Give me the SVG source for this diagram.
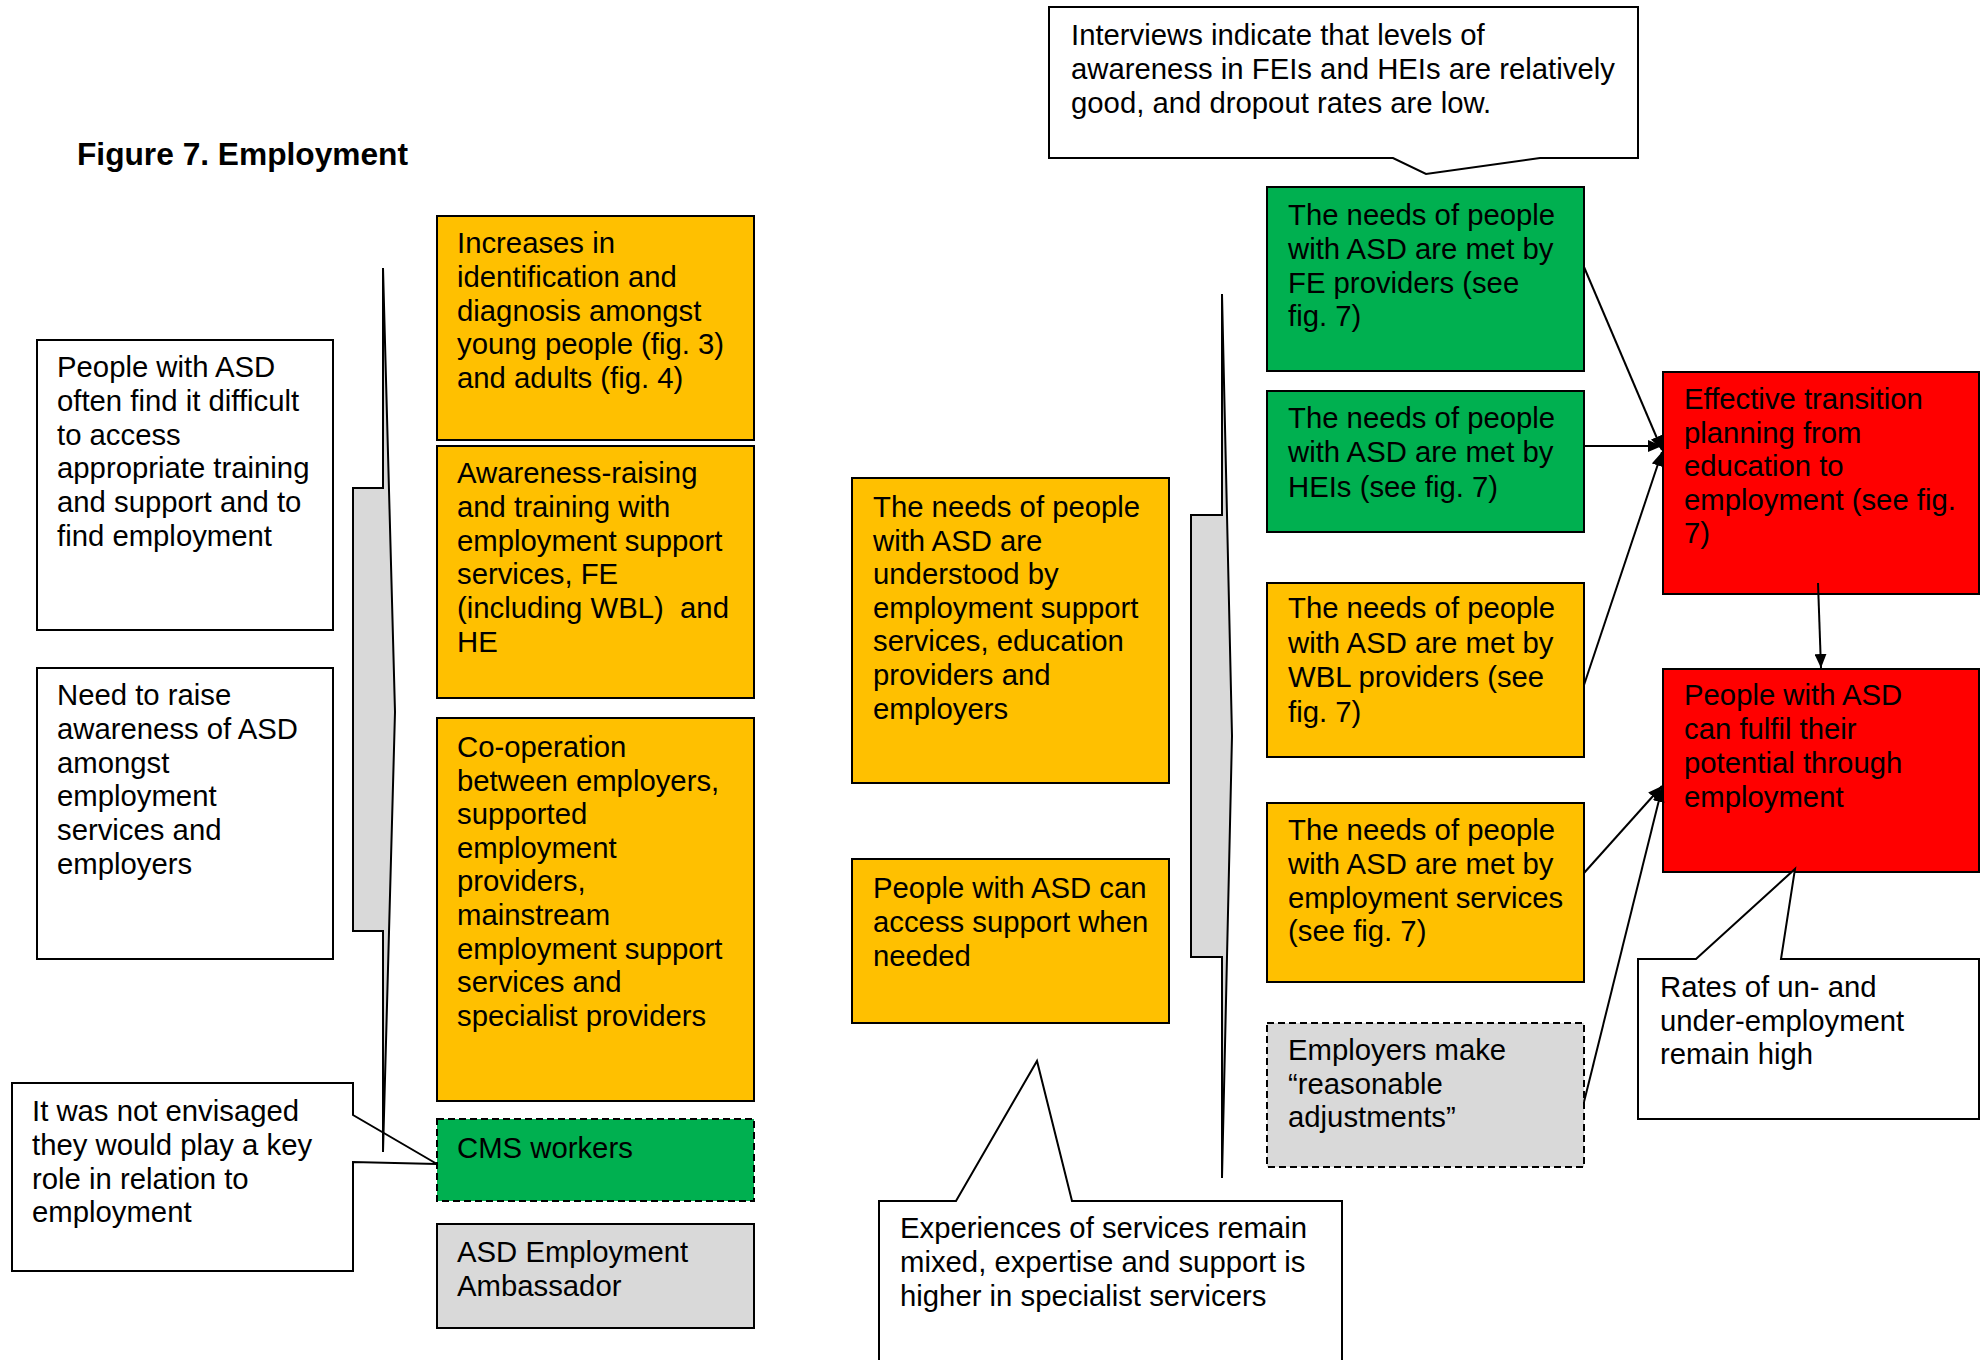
<svg xmlns="http://www.w3.org/2000/svg" width="1988" height="1360" viewBox="0 0 1988 1360">
  <style>
    text { font-family: "Liberation Sans", Arial, sans-serif; font-size: 29.3px; fill: #000; }
    .title { font-weight: bold; font-size: 31.7px; }
    .box { stroke: #000; stroke-width: 2; }
    .white { fill: #fff; }
    .amber { fill: #FFC000; }
    .green { fill: #00B050; }
    .red { fill: #FF0000; }
    .grey { fill: #D9D9D9; }
    .dashed { stroke-dasharray: 7 4; }
    .brace { fill: #D9D9D9; stroke: #000; stroke-width: 2; stroke-linejoin: miter; }
    .callout { fill: #fff; stroke: #000; stroke-width: 2; }
    .link { stroke: #000; stroke-width: 2; fill: none; marker-end: url(#arrow); }
  </style>
  <defs>
    <marker id="arrow" viewBox="0 0 14 12" markerWidth="14" markerHeight="12" refX="14" refY="6" orient="auto" markerUnits="userSpaceOnUse">
      <path d="M0,0 L14,6 L0,12 z" fill="#000"/>
    </marker>
  </defs>

  <rect width="1988" height="1360" fill="#fff"/>

  <text class="title" x="77" y="165">Figure 7. Employment</text>

  <!-- left-hand issue boxes -->
  <g id="issue-access">
    <rect class="box white" x="37" y="340" width="296" height="290"/>
    <text x="57" y="377">People with ASD<tspan x="57" dy="33.8">often find it difficult</tspan><tspan x="57" dy="33.8">to access</tspan><tspan x="57" dy="33.8">appropriate training</tspan><tspan x="57" dy="33.8">and support and to</tspan><tspan x="57" dy="33.8">find employment</tspan></text>
  </g>
  <g id="issue-awareness">
    <rect class="box white" x="37" y="668" width="296" height="291"/>
    <text x="57" y="705">Need to raise<tspan x="57" dy="33.8">awareness of ASD</tspan><tspan x="57" dy="33.8">amongst</tspan><tspan x="57" dy="33.8">employment</tspan><tspan x="57" dy="33.8">services and</tspan><tspan x="57" dy="33.8">employers</tspan></text>
  </g>
  <g id="note-cms">
    <polygon class="callout" points="12,1083 353,1083 353,1115 437,1164 353,1162 353,1271 12,1271"/>
    <text x="32" y="1121">It was not envisaged<tspan x="32" dy="33.8">they would play a key</tspan><tspan x="32" dy="33.8">role in relation to</tspan><tspan x="32" dy="33.8">employment</tspan></text>
  </g>

  <!-- left brace -->
  <g id="brace-left">
    <polygon class="brace" points="383,268 395,712 383,1152 383,931 353,931 353,488 383,488"/>
  </g>

  <!-- activities column -->
  <g id="act-identification">
    <rect class="box amber" x="437" y="216" width="317" height="224"/>
    <text x="457" y="253">Increases in<tspan x="457" dy="33.8">identification and</tspan><tspan x="457" dy="33.8">diagnosis amongst</tspan><tspan x="457" dy="33.8">young people (fig. 3)</tspan><tspan x="457" dy="33.8">and adults (fig. 4)</tspan></text>
  </g>
  <g id="act-awareness">
    <rect class="box amber" x="437" y="446" width="317" height="252"/>
    <text x="457" y="483">Awareness-raising<tspan x="457" dy="33.8">and training with</tspan><tspan x="457" dy="33.8">employment support</tspan><tspan x="457" dy="33.8">services, FE</tspan><tspan x="457" dy="33.8" xml:space="preserve">(including WBL)  and</tspan><tspan x="457" dy="33.8">HE</tspan></text>
  </g>
  <g id="act-cooperation">
    <rect class="box amber" x="437" y="718" width="317" height="383"/>
    <text x="457" y="757">Co-operation<tspan x="457" dy="33.6">between employers,</tspan><tspan x="457" dy="33.6">supported</tspan><tspan x="457" dy="33.6">employment</tspan><tspan x="457" dy="33.6">providers,</tspan><tspan x="457" dy="33.6">mainstream</tspan><tspan x="457" dy="33.6">employment support</tspan><tspan x="457" dy="33.6">services and</tspan><tspan x="457" dy="33.6">specialist providers</tspan></text>
  </g>
  <g id="act-cms">
    <rect class="box green dashed" x="437" y="1119" width="317" height="82"/>
    <text x="457" y="1158">CMS workers</text>
  </g>
  <g id="act-ambassador">
    <rect class="box grey" x="437" y="1224" width="317" height="104"/>
    <text x="457" y="1262">ASD Employment<tspan x="457" dy="33.8">Ambassador</tspan></text>
  </g>

  <!-- intermediate outcomes -->
  <g id="out-understood">
    <rect class="box amber" x="852" y="478" width="317" height="305"/>
    <text x="873" y="517">The needs of people<tspan x="873" dy="33.6">with ASD are</tspan><tspan x="873" dy="33.6">understood by</tspan><tspan x="873" dy="33.6">employment support</tspan><tspan x="873" dy="33.6">services, education</tspan><tspan x="873" dy="33.6">providers and</tspan><tspan x="873" dy="33.6">employers</tspan></text>
  </g>
  <g id="out-access">
    <rect class="box amber" x="852" y="859" width="317" height="164"/>
    <text x="873" y="898">People with ASD can<tspan x="873" dy="33.8">access support when</tspan><tspan x="873" dy="33.8">needed</tspan></text>
  </g>
  <g id="note-experiences">
    <polygon class="callout" points="879,1201 956,1201 1037,1061 1072,1201 1342,1201 1342,1372 879,1372"/>
    <text x="900" y="1238">Experiences of services remain<tspan x="900" dy="33.8">mixed, expertise and support is</tspan><tspan x="900" dy="33.8">higher in specialist servicers</tspan></text>
  </g>

  <!-- middle brace -->
  <g id="brace-middle">
    <polygon class="brace" points="1222,294 1232,736 1222,1178 1222,957 1191,957 1191,515 1222,515"/>
  </g>

  <g id="note-interviews">
    <polygon class="callout" points="1049,7 1638,7 1638,158 1540,158 1426,174 1393,158 1049,158"/>
    <text x="1071" y="45">Interviews indicate that levels of<tspan x="1071" dy="33.8">awareness in FEIs and HEIs are relatively</tspan><tspan x="1071" dy="33.8">good, and dropout rates are low.</tspan></text>
  </g>

  <!-- providers column -->
  <g id="met-fe">
    <rect class="box green" x="1267" y="187" width="317" height="184"/>
    <text x="1288" y="225">The needs of people<tspan x="1288" dy="33.8">with ASD are met by</tspan><tspan x="1288" dy="33.8">FE providers (see</tspan><tspan x="1288" dy="33.8">fig. 7)</tspan></text>
  </g>
  <g id="met-he">
    <rect class="box green" x="1267" y="391" width="317" height="141"/>
    <text x="1288" y="428">The needs of people<tspan x="1288" dy="34.3">with ASD are met by</tspan><tspan x="1288" dy="34.3">HEIs (see fig. 7)</tspan></text>
  </g>
  <g id="met-wbl">
    <rect class="box amber" x="1267" y="583" width="317" height="174"/>
    <text x="1288" y="618">The needs of people<tspan x="1288" dy="34.5">with ASD are met by</tspan><tspan x="1288" dy="34.5">WBL providers (see</tspan><tspan x="1288" dy="34.5">fig. 7)</tspan></text>
  </g>
  <g id="met-employment">
    <rect class="box amber" x="1267" y="803" width="317" height="179"/>
    <text x="1288" y="840">The needs of people<tspan x="1288" dy="33.8">with ASD are met by</tspan><tspan x="1288" dy="33.8">employment services</tspan><tspan x="1288" dy="33.8">(see fig. 7)</tspan></text>
  </g>
  <g id="employers-adjust">
    <rect class="box grey dashed" x="1267" y="1023" width="317" height="144"/>
    <text x="1288" y="1060">Employers make<tspan x="1288" dy="33.6">“reasonable</tspan><tspan x="1288" dy="33.6">adjustments”</tspan></text>
  </g>

  <!-- final outcomes -->
  <g id="transition">
    <rect class="box red" x="1663" y="372" width="316" height="222"/>
    <text x="1684" y="409">Effective transition<tspan x="1684" dy="33.6">planning from</tspan><tspan x="1684" dy="33.6">education to</tspan><tspan x="1684" dy="33.6">employment (see fig.</tspan><tspan x="1684" dy="33.6">7)</tspan></text>
  </g>
  <g id="potential">
    <rect class="box red" x="1663" y="669" width="316" height="203"/>
    <text x="1684" y="705">People with ASD<tspan x="1684" dy="34">can fulfil their</tspan><tspan x="1684" dy="34">potential through</tspan><tspan x="1684" dy="34">employment</tspan></text>
  </g>
  <g id="note-rates">
    <polygon class="callout" points="1638,959 1696,959 1795,869 1781,959 1979,959 1979,1119 1638,1119"/>
    <text x="1660" y="997">Rates of un- and<tspan x="1660" dy="33.6">under-employment</tspan><tspan x="1660" dy="33.6">remain high</tspan></text>
  </g>

  <!-- connectors -->
  <g id="connectors">
    <line class="link" x1="1584" y1="267" x2="1662" y2="450"/>
    <line class="link" x1="1584" y1="446" x2="1662" y2="446"/>
    <line class="link" x1="1584" y1="685" x2="1662" y2="452"/>
    <line class="link" x1="1818" y1="583" x2="1821" y2="668"/>
    <line class="link" x1="1584" y1="873" x2="1662" y2="786"/>
    <line class="link" x1="1584" y1="1102" x2="1662" y2="788"/>
  </g>
</svg>
